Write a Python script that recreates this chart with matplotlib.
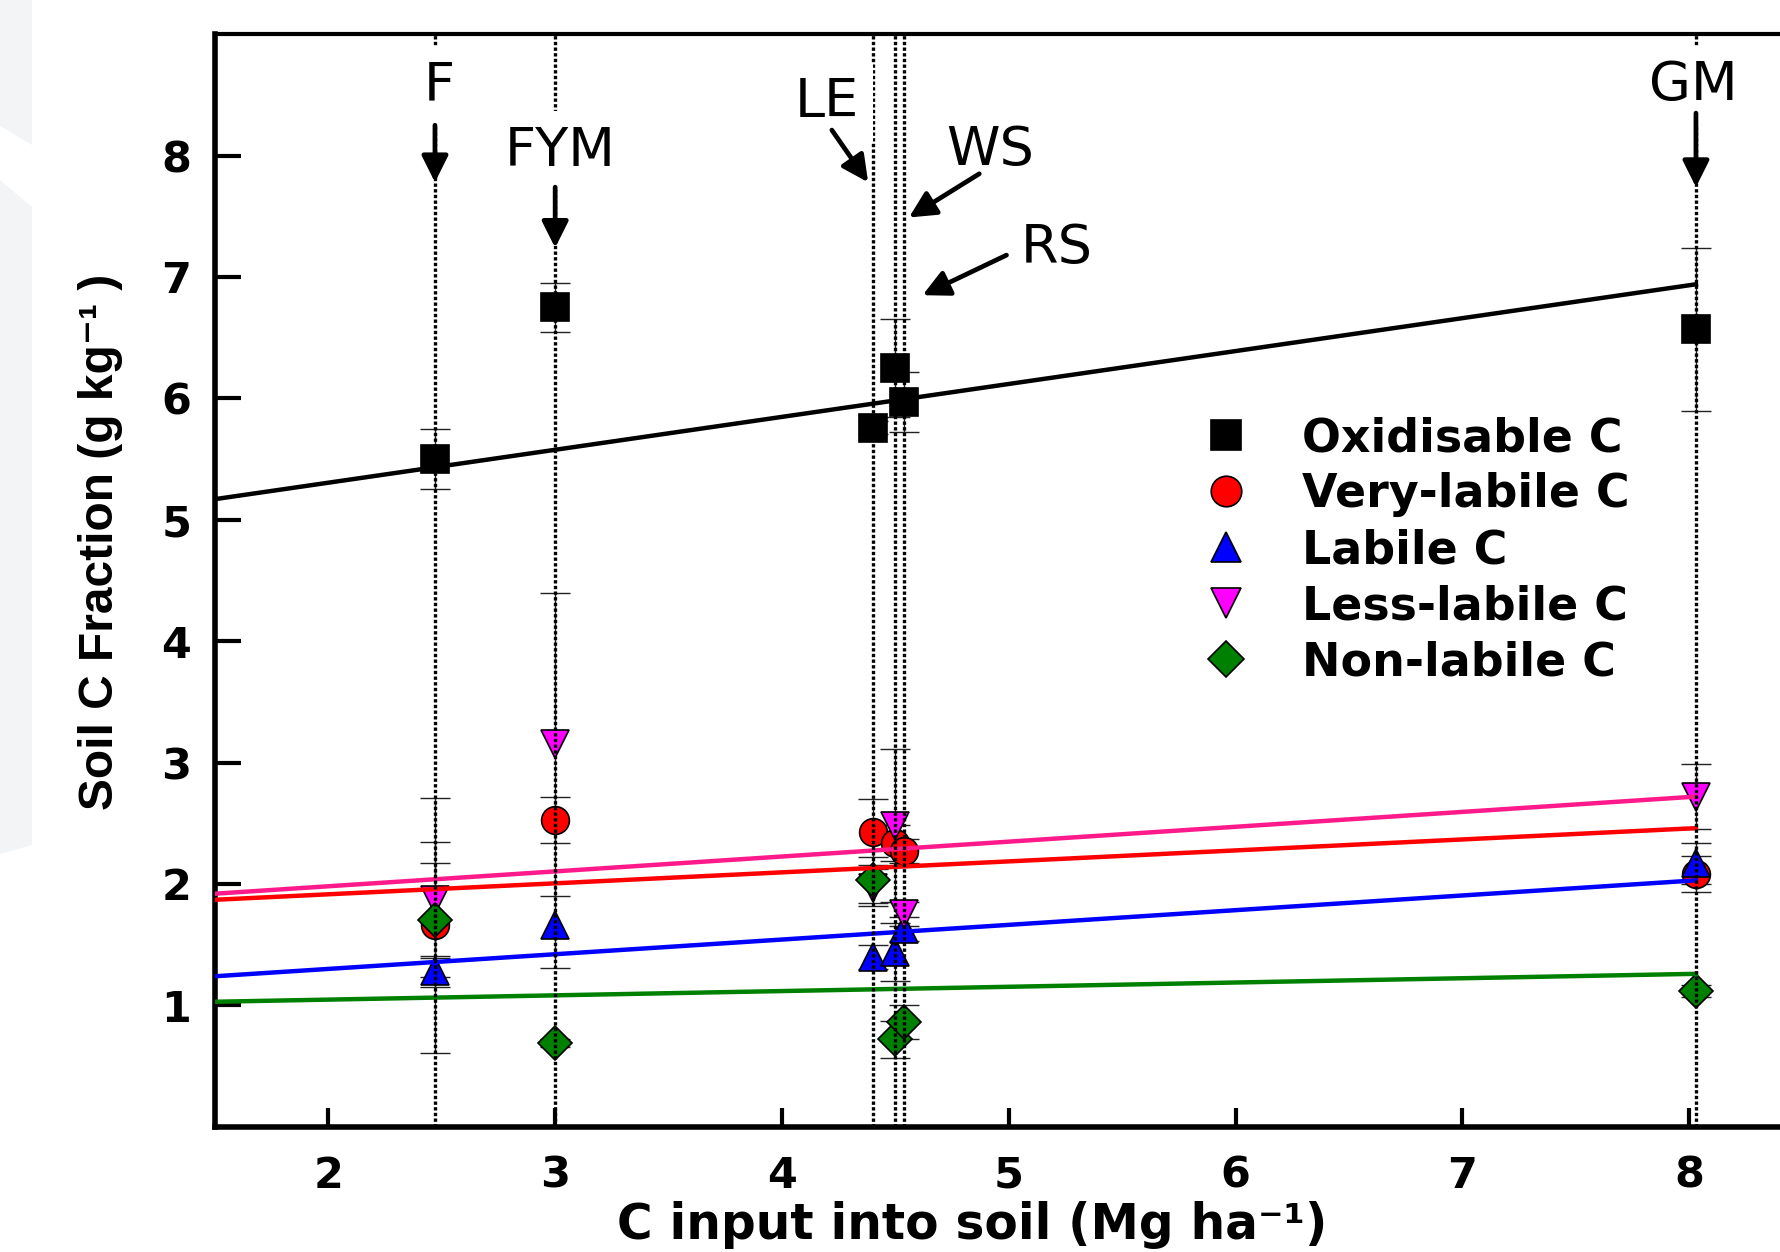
import matplotlib
matplotlib.use("Agg")
import matplotlib.pyplot as plt
from matplotlib.patches import Polygon

# treatments and their C input (Mg/ha)
treatments = ["F", "FYM", "LE", "WS", "RS", "GM"]
c_input = [2.47, 3.00, 4.40, 4.50, 4.54, 8.03]

# soil C fractions (g/kg) and their errors, one value per treatment
oxidisable = [5.50, 6.75, 5.76, 6.25, 5.97, 6.57]
oxidisable_err = [0.25, 0.20, 0.05, 0.40, 0.25, 0.67]
very_labile = [1.66, 2.53, 2.43, 2.34, 2.27, 2.08]
very_labile_err = [1.05, 0.19, 0.27, 0.15, 0.10, 0.15]
labile = [1.28, 1.66, 1.40, 1.44, 1.63, 2.17]
labile_err = [0.13, 0.35, 0.10, 0.24, 0.10, 0.17]
less_labile = [1.87, 3.15, 1.97, 2.48, 1.75, 2.72]
less_labile_err = [0.48, 1.25, 0.15, 0.63, 0.10, 0.27]
non_labile = [1.70, 0.69, 2.03, 0.72, 0.86, 1.12]
non_labile_err = [0.47, 0.03, 0.19, 0.15, 0.14, 0.05]

# regression lines, read at both ends
fit_x = [1.5, 8.03]
fit_oxidisable = [5.17, 6.94]
fit_very_labile = [1.87, 2.46]
fit_labile = [1.24, 2.03]
fit_less_labile = [1.92, 2.72]
fit_non_labile = [1.03, 1.26]

# label text position and arrow (start -> tip) for each treatment
label_pos = [(2.49, 8.58), (3.02, 8.04), (4.20, 8.44), (4.92, 8.05), (5.21, 7.24), (8.02, 8.58)]
arrow_start = [(2.47, 8.25), (3.00, 7.74), (4.22, 8.21), (4.87, 7.85), (4.99, 7.18), (8.03, 8.35)]
arrow_tip = [(2.47, 7.78), (3.00, 7.24), (4.38, 7.78), (4.56, 7.49), (4.62, 6.85), (8.03, 7.74)]

series = [
    ("Oxidisable C", oxidisable, oxidisable_err, fit_oxidisable, "s", "black", "black"),
    ("Very-labile C", very_labile, very_labile_err, fit_very_labile, "o", "#ff0000", "#ff0000"),
    ("Labile C", labile, labile_err, fit_labile, "^", "#0000ff", "#0000ff"),
    ("Less-labile C", less_labile, less_labile_err, fit_less_labile, "v", "#ff00ff", "#ff1a8c"),
    ("Non-labile C", non_labile, non_labile_err, fit_non_labile, "D", "#008000", "#008000"),
]

fig = plt.figure(figsize=(17.81, 12.52), dpi=100)

# light grey web-page background at the left edge
fig.patches.append(Polygon([(0, 1), (32/1781, 1), (32/1781, 1-145/1252), (0, 1-126/1252)],
                           closed=True, transform=fig.transFigure, fc="#f2f4f6", ec="none"))
fig.patches.append(Polygon([(0, 1-180/1252), (32/1781, 1-207/1252), (32/1781, 1-845/1252), (0, 1-854/1252)],
                           closed=True, transform=fig.transFigure, fc="#f2f4f6", ec="none"))

ax = fig.add_axes([0.1207, 0.100, 0.8914, 0.8727])

handles = []
for name, vals, errs, fit, mk, fc, lc in series:
    ax.errorbar(c_input, vals, yerr=errs, fmt="none", ecolor="#222222", elinewidth=1.0,
                capsize=11, capthick=1.0, zorder=2)
    h, = ax.plot(c_input, vals, linestyle="none", marker=mk, markersize=20 if mk != "D" else 17,
                 markerfacecolor=fc, markeredgecolor="black", markeredgewidth=1.2, zorder=3, label=name)
    handles.append(h)
    ax.plot(fit_x, fit, color=lc, lw=3.2, zorder=4)

for xv in c_input:
    ax.axvline(xv, color="black", lw=2.4, linestyle=(0, (1, 0.7)), zorder=5)

for t, (lx, ly), (sx, sy), (tx, ty) in zip(treatments, label_pos, arrow_start, arrow_tip):
    ax.text(lx, ly, t, fontsize=39, ha="center", va="center", zorder=6,
            bbox=dict(boxstyle="square,pad=0.25", fc="white", ec="none"))
    ax.annotate("", xy=(tx, ty), xytext=(sx, sy), zorder=7,
                arrowprops=dict(arrowstyle="-|>", color="black", lw=3.4, mutation_scale=40,
                                shrinkA=0, shrinkB=0))

ax.set_xlim(1.5, 8.5)
ax.set_ylim(0, 9)
ax.set_xticks([2, 3, 4, 5, 6, 7, 8])
ax.set_yticks([1, 2, 3, 4, 5, 6, 7, 8])
ax.tick_params(axis="y", direction="in", length=19, width=3, pad=17, labelsize=31)
ax.tick_params(axis="x", direction="in", length=14, width=3, pad=20, labelsize=31)
for lab in ax.get_xticklabels() + ax.get_yticklabels():
    lab.set_fontweight("bold")
for side in ["left", "bottom", "right"]:
    ax.spines[side].set_linewidth(4)
ax.spines["top"].set_linewidth(3)

ax.set_xlabel("C input into soil (Mg ha\u207b\u00b9)", fontsize=35, fontweight="bold")
ax.xaxis.set_label_coords(0.477, -0.068)
ax.set_ylabel("Soil C Fraction (g kg\u207b\u00b9 )", fontsize=34.5, fontweight="bold",
              family=["Liberation Sans", "DejaVu Sans"])
ax.yaxis.set_label_coords(-0.058, 0.535)

leg = ax.legend(handles=handles, loc="upper left", bbox_to_anchor=(1203/1781, 1-416/1252),
                bbox_transform=fig.transFigure, frameon=False,
                prop={"weight": "bold", "size": 33}, handlelength=1.0, handletextpad=1.15,
                labelspacing=0.24, borderpad=0, borderaxespad=0, markerscale=1.1)

fig.savefig("out.png", dpi=100)
